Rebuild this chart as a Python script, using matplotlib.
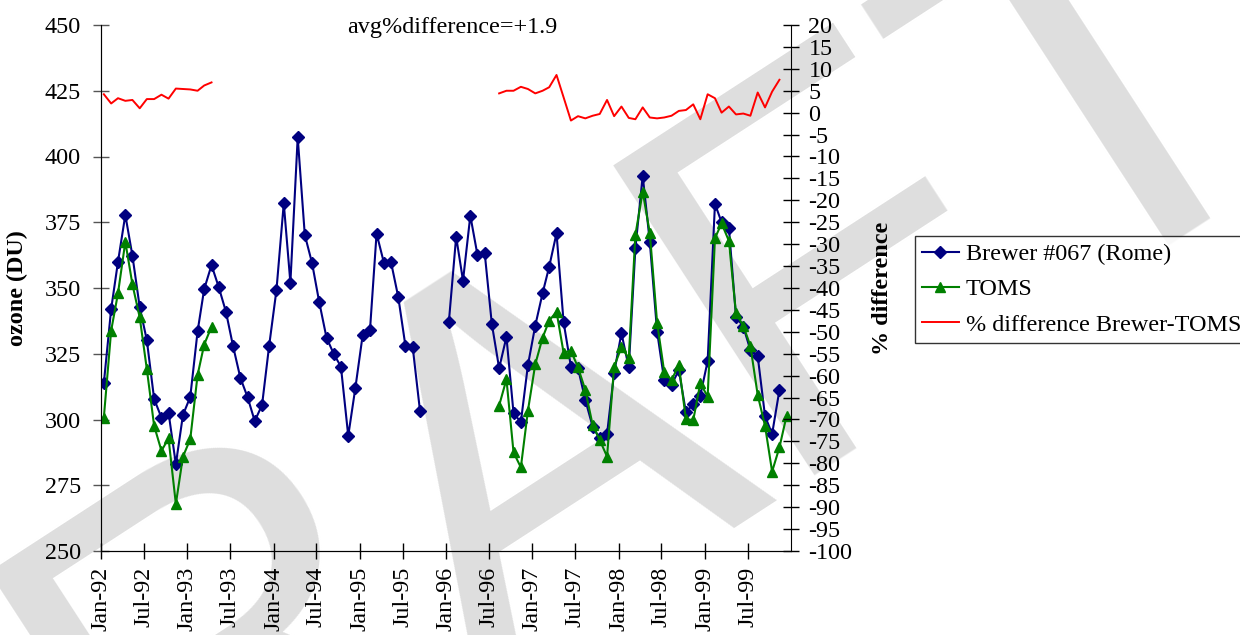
import numpy as np
import pandas as pd
import matplotlib
matplotlib.use("Agg")
import matplotlib.pyplot as plt

plt.rcParams["font.family"] = ["Liberation Serif", "DejaVu Serif"]
plt.rcParams["axes.unicode_minus"] = False

# monthly total ozone (DU), Brewer #067 Rome, two runs of data
brewer_92_95 = [313.8, 342, 360, 377.8, 362.3, 342.7, 330.2, 307.8, 300.7, 302.6, 283, 301.7,
                308.6, 333.5, 349.6, 358.7, 350.5, 341, 328, 315.9, 308.4, 299.4, 305.5, 328,
                349.2, 382.2, 352, 407.3, 370.2, 359.4, 344.7, 331.1, 324.9, 320.1, 293.8, 311.9,
                332, 333.9, 370.7, 359.6, 359.9, 346.5, 328.1, 327.5, 303.2]          # from Jan-92
brewer_96_99 = [337, 369.5, 352.8, 377.5, 362.7, 363.2, 336.4, 319.5, 331.4, 302.4, 299, 320.7,
                335.7, 348, 358.1, 370.8, 337, 320.1, 319.5, 307.4, 297.3, 292.8, 294.5, 317.8,
                332.8, 319.8, 365.1, 392.7, 367.6, 333.4, 315, 313.1, 318.8, 302.7, 305.8, 309.1,
                322.2, 382, 375, 372.9, 339.1, 335.3, 326.4, 324.1, 301.3, 294.5, 311.2]  # from Jan-96

# TOMS overpass
toms_92_93 = [300.7, 333.8, 348, 367.6, 351.4, 338.8, 319.2, 297.6, 288.1, 292.8, 267.9, 285.9,
              292.5, 316.9, 328.5, 335.3]                                            # from Jan-92
toms_96_99 = [305.3, 315.3, 287.5, 281.8, 303.4, 321, 331.1, 337.6, 341, 325.4, 326.2, 319.8,
              311.2, 297.9, 292.2, 285.9, 320.1, 327.5, 323.3, 370.2, 386.6, 371, 336.8, 318.2,
              315, 320.7, 300.1, 299.8, 313.8, 308.7, 368.9, 374.6, 367.9, 340.4, 335.6, 328,
              309.3, 297.6, 280.2, 289.4, 301.3]                                     # from Aug-96

# % difference Brewer-TOMS
diff_92_93 = [4.2, 2.1, 3.3, 2.7, 2.9, 1.0, 3.1, 3.1, 4.1, 3.2, 5.5, 5.4, 5.3, 5.0, 6.2, 6.9]
diff_96_99 = [4.4, 5.0, 5.0, 5.9, 5.4, 4.4, 5.0, 5.8, 8.6, 3.5, -1.8, -0.8, -1.3, -0.7, -0.3, 2.9,
              -0.8, 1.4, -1.2, -1.5, 1.2, -1.1, -1.3, -1.1, -0.7, 0.4, 0.6, 1.9, -1.5, 4.2, 3.3,
              0.0, 1.4, -0.4, -0.2, -0.7, 4.6, 1.2, 4.8, 7.5]                        # from Aug-96

tick_dates = pd.date_range("1992-01-01", "1999-07-01", freq="6MS")
tick_labels = [d.strftime("%b-%y") for d in tick_dates]
avg_text = "avg%difference=+1.9"


def months(start, n):
    return pd.date_range(start, periods=n, freq="MS") + pd.Timedelta(days=12)


W, H = 1240, 635
FS = 17.4
NAVY, GREEN, RED = "#000080", "#008000", "#ff0000"

fig = plt.figure(figsize=(W / 100, H / 100), dpi=100, facecolor="white")

# watermark behind everything
fig.text(571 / W, 1 - 605 / H, "DRAFT", fontsize=386, family="Liberation Sans",
         color="#dedede", rotation=33, rotation_mode="anchor", ha="center", va="baseline",
         zorder=-5)

ax = fig.add_axes([101 / W, 1 - 551 / H, 690 / W, 526 / H])
ax.set_facecolor("none")
ax2 = ax.twinx()
ax2.set_facecolor("none")

mk = dict(lw=1.5, markersize=6)
l1, = ax.plot(months("1992-01-01", len(brewer_92_95)), brewer_92_95, color=NAVY, marker="D",
              label="Brewer #067 (Rome)", **mk)
ax.plot(months("1996-01-01", len(brewer_96_99)), brewer_96_99, color=NAVY, marker="D", **mk)
l2, = ax.plot(months("1992-01-01", len(toms_92_93)), toms_92_93, color=GREEN, marker="^",
              label="TOMS", lw=1.5, markersize=7.5)
ax.plot(months("1996-08-01", len(toms_96_99)), toms_96_99, color=GREEN, marker="^",
        lw=1.5, markersize=7.5)
l3, = ax2.plot(months("1992-01-01", len(diff_92_93)), diff_92_93, color=RED, lw=1.4,
               label="% difference Brewer-TOMS")
ax2.plot(months("1996-08-01", len(diff_96_99)), diff_96_99, color=RED, lw=1.4)

ax.set_xlim(pd.Timestamp("1992-01-01"), pd.Timestamp("2000-01-01"))
ax.set_ylim(250, 450)
ax.set_yticks(range(250, 451, 25))
ax.set_xticks(tick_dates)
ax.set_xticklabels(tick_labels, rotation=90)
ax2.set_ylim(-100, 20)
ax2.set_yticks(range(-100, 21, 5))

for a in (ax, ax2):
    a.spines["top"].set_visible(False)
ax.spines["right"].set_visible(False)
ax.spines["left"].set_color("#555555")
ax.tick_params(axis="y", direction="inout", length=11, width=1, color="#555555",
               labelsize=FS, pad=9)
ax.tick_params(axis="x", direction="inout", length=11, width=1, labelsize=FS, pad=6)
ax2.tick_params(axis="y", direction="inout", length=11, width=1, labelsize=FS, pad=7)

ax.set_ylabel("ozone (DU)", fontsize=FS, fontweight="bold")
ax.yaxis.set_label_coords((28 - 101) / 690, 0.5)
ax2.set_ylabel("% difference", fontsize=FS, fontweight="bold")
ax2.yaxis.set_label_coords((872 - 101) / 690, 0.5)

fig.text(452 / W, 1 - 27 / H, avg_text, fontsize=FS, ha="center", va="center")

leg = fig.legend(handles=[l1, l2, l3], loc="upper left",
                 bbox_to_anchor=(915 / W, 1 - 236 / H), bbox_transform=fig.transFigure,
                 fontsize=FS, frameon=True, fancybox=False, borderaxespad=0,
                 handlelength=1.5, handletextpad=0.3, labelspacing=0.55, borderpad=0.3)
leg.get_frame().set_edgecolor("black")
leg.get_frame().set_linewidth(1)

fig.savefig("out.png", dpi=100, facecolor="white")
